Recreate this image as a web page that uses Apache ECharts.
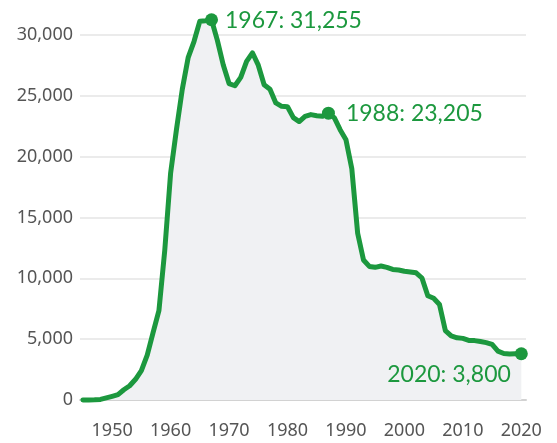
<!DOCTYPE html>
<html>
<head>
<meta charset="utf-8">
<script src="https://cdn.jsdelivr.net/npm/echarts@6/dist/echarts.min.js"></script>
<style>
  html, body { margin: 0; padding: 0; background: #fff; }
  #stockpile_con { width: 557px; height: 443px; }
</style>
</head>
<body>
<div id="stockpile_con"></div>
<script>
// US nuclear warhead stockpile, 1945-2020
var years = [1945, 1946, 1947, 1948, 1949, 1950, 1951, 1952, 1953, 1954,
    1955, 1956, 1957, 1958, 1959, 1960, 1961, 1962, 1963, 1964,
    1965, 1966, 1967, 1968, 1969, 1970, 1971, 1972, 1973, 1974,
    1975, 1976, 1977, 1978, 1979, 1980, 1981, 1982, 1983, 1984,
    1985, 1986, 1987, 1988, 1989, 1990, 1991, 1992, 1993, 1994,
    1995, 1996, 1997, 1998, 1999, 2000, 2001, 2002, 2003, 2004,
    2005, 2006, 2007, 2008, 2009, 2010, 2011, 2012, 2013, 2014,
    2015, 2016, 2017, 2018, 2019, 2020];
var warheads = [2, 9, 13, 50, 170, 299, 438, 841, 1169, 1703,
    2422, 3692, 5543, 7345, 12298, 18638, 22229, 25540, 28133, 29463,
    31139, 31175, 31255, 29561, 27552, 26008, 25830, 26516, 27835, 28537,
    27519, 25914, 25542, 24418, 24138, 24104, 23208, 22886, 23305, 23459,
    23368, 23317, 23575, 23205, 22217, 21392, 19008, 13708, 11511, 10979,
    10904, 11011, 10903, 10732, 10685, 10577, 10526, 10457, 10027, 8570,
    8360, 7853, 5709, 5273, 5113, 5066, 4897, 4881, 4804, 4717,
    4571, 4018, 3822, 3785, 3805, 3800];
var xTicks = [1950, 1960, 1970, 1980, 1990, 2000, 2010, 2020];
// highlighted points (the 1988 dot sits on the 1987 point in the original)
var noteYears = [1967, 1987, 2020];
var noteText = ['1967: 31,255', '1988: 23,205', '2020: 3,800'];

var green = '#1c983e';

function fmt(v) {
    return String(v).replace(/\B(?=(\d{3})+(?!\d))/g, ',');
}

var lineData = years.map(function (y, i) { return [y, warheads[i]]; });

var labelPos = [
    { position: 'right', distance: 7, offset: [0, 1] },
    { position: 'right', distance: 11, offset: [0, 0] },
    { position: 'left', distance: 4, offset: [0, 21] }
];
var noteData = noteYears.map(function (y, i) {
    return {
        value: [y, warheads[years.indexOf(y)]],
        label: {
            show: true,
            formatter: noteText[i],
            position: labelPos[i].position,
            distance: labelPos[i].distance,
            offset: labelPos[i].offset
        }
    };
});

var chart = echarts.init(document.getElementById('stockpile_con'));
chart.setOption({
    animation: false,
    grid: { left: 80, right: 31, top: 35, bottom: 43 },
    xAxis: {
        type: 'value',
        min: 1944.5,
        max: 2020.8,
        axisLine: { show: true, lineStyle: { color: '#d2d2d2', width: 2 } },
        axisTick: { show: false },
        splitLine: { show: false },
        axisLabel: {
            customValues: xTicks,
            color: '#555',
            fontSize: 18,
            fontFamily: 'Noto Sans',
            margin: 22,
            formatter: function (v) { return String(v); }
        }
    },
    yAxis: {
        type: 'value',
        min: 0,
        max: 30000,
        interval: 5000,
        axisLine: { show: false },
        axisTick: { show: false },
        splitLine: { lineStyle: { color: '#e4e4e4', width: 1.5 } },
        axisLabel: {
            color: '#555',
            fontSize: 18,
            fontFamily: 'Noto Sans',
            margin: 7,
            formatter: fmt
        }
    },
    series: [
        {
            type: 'line',
            data: lineData,
            symbol: 'none',
            clip: false,
            lineStyle: { color: green, width: 5, join: 'round', cap: 'round' },
            areaStyle: { color: '#f0f1f3', opacity: 1 },
            z: 2
        },
        {
            type: 'scatter',
            data: noteData,
            symbolSize: 13,
            clip: false,
            itemStyle: { color: green, opacity: 1 },
            label: {
                color: green,
                fontSize: 23,
                fontFamily: 'Lato'
            },
            z: 3
        }
    ]
});

window.addEventListener('resize', function () {
    chart.resize();
});
</script>
</body>
</html>
